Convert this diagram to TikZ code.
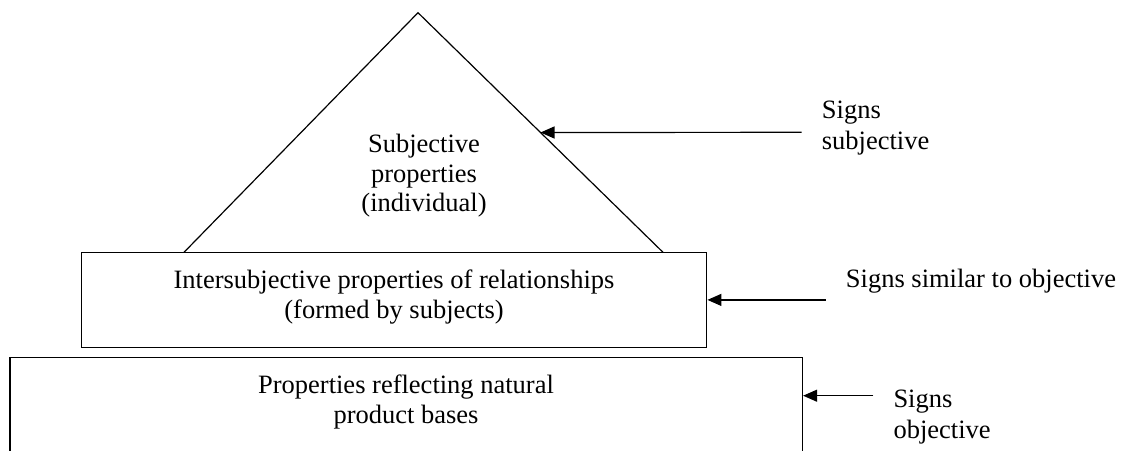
\documentclass[tikz,border=0pt]{standalone}
\usepackage{fontspec}
\setmainfont{Liberation Serif}
\usetikzlibrary{arrows.meta,calc}
\tikzset{
	layerbox/.style={draw, line width=1.5pt, inner sep=0pt},
	layertext/.style={align=center, inner sep=0pt, font=\fontsize{26.5}{29.5}\selectfont},
	signtext/.style={align=left, anchor=west, inner sep=0pt, font=\fontsize{26.5}{31}\selectfont},
	signarrow/.style={line width=1.2pt, -{Triangle[length=14pt,width=12pt]}}
}

\begin{document}
\begin{tikzpicture}[x=1pt, y=-1pt]
		%%%%% START %%%%%
		\useasboundingbox (0, 0) rectangle (1121, 450);
		\clip (0, 0) rectangle (1121, 450);
		
		% pyramid top
		\coordinate (tl) at (184, 252.3);
		\coordinate (apex) at (418, 12.7);
		\coordinate (tr) at (663, 252.3);
		\draw[line width=1.2pt, line join=miter] (tl) -- (apex) -- (tr);
		\node[layertext] (subj) at (424, 176) {Subjective\\properties\\(individual)};
		
		% middle and lower layers
		\node[layerbox, minimum width=625pt, minimum height=95pt] (inter) at (394.2, 299.9) {};
		\node[layertext] (intertext) at (394, 297) {Intersubjective properties of relationships\\(formed by subjects)};
		\node[layerbox, minimum width=792.3pt, minimum height=130pt] (base) at (406.2, 422.5) {};
		\node[layertext] (basetext) at (406, 402) {Properties reflecting natural\\product bases};
		
		% signs on the right
		\node[signtext] (sign1) at (821.7, 128) {Signs\\subjective};
		\node[signtext] (sign2) at (845.7, 280.7) {Signs similar to objective};
		\node[signtext] (sign3) at (893.3, 417) {Signs\\objective};
		
		\coordinate (s1) at (801.7, 132.3);
		\coordinate (s2) at (825.7, 299.9);
		\coordinate (s3) at (873.3, 395.7);
		\draw[signarrow] (s1) -- ($(apex)!0.5!(tr)$);
		\draw[signarrow] (s2) -- (inter.east);
		\draw[signarrow] (s3) -- (s3 -| base.east);
		%%%%% END %%%%%
\end{tikzpicture}
\end{document}
